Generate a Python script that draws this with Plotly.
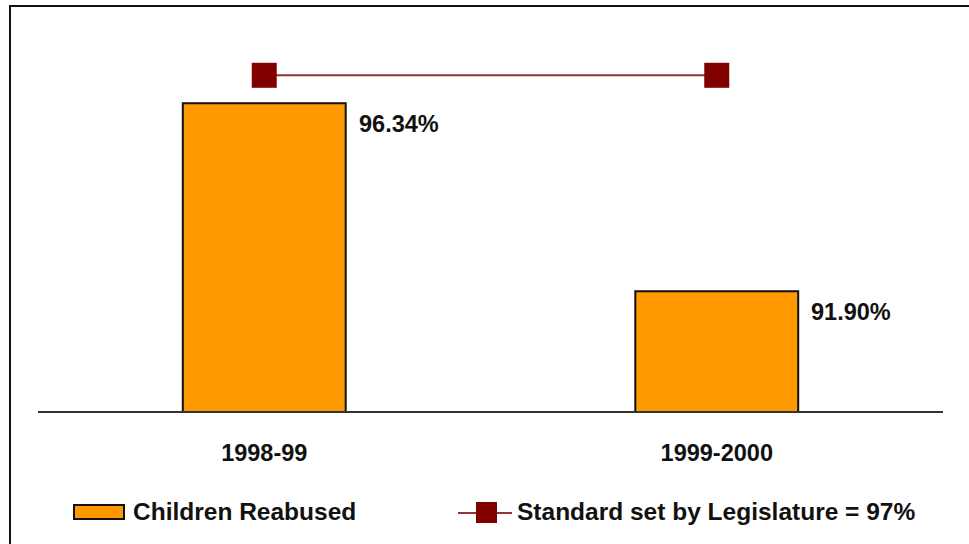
import plotly.graph_objects as go

# Data
periods = ["1998-99", "1999-2000"]
reabused_pct = [96.34, 91.90]
standard_pct = [97, 97]
bar_name = "Children Reabused"
line_name = "Standard set by Legislature = 97%"

W, H = 969, 544
L, R, T, B = 38, 26, 30, 133
PW, PH = W - L - R, H - T - B
Y_MIN, Y_MAX = 89.07, 98.07
FONT = "Liberation Sans, Arial, sans-serif"


def px_x(p):
    return (p - L) / PW


def px_y(p):
    return (H - B - p) / PH


fig = go.Figure()

fig.add_trace(go.Bar(
    x=periods, y=reabused_pct, name=bar_name, width=0.36,
    marker=dict(color="#FF9900", line=dict(color="#111111", width=2)),
    showlegend=False,
))

fig.add_trace(go.Scatter(
    x=periods, y=standard_pct, name=line_name, mode="lines+markers",
    line=dict(color="#993333", width=2),
    marker=dict(symbol="square", size=25, color="#800000"),
    showlegend=False,
))

# Value labels to the right of each bar
for i, v in enumerate(reabused_pct):
    fig.add_annotation(
        x=i + 0.18, y=v, xref="x", yref="y", text=f"{v:.2f}%",
        showarrow=False, xanchor="left", yanchor="middle",
        xshift=11, yshift=-21,
        font=dict(family=FONT, size=23.5, color="#111111", weight="bold"),
    )

shapes = []
# Outer frame
shapes.append(dict(type="rect", xref="paper", yref="paper",
                   x0=px_x(10), y0=-2, x1=2, y1=px_y(6),
                   line=dict(color="#111111", width=2), layer="below"))

# Legend: bar swatch
shapes.append(dict(type="rect", xref="paper", yref="paper",
                   x0=px_x(74), x1=px_x(124), y0=px_y(519), y1=px_y(505),
                   fillcolor="#FF9900", line=dict(color="#111111", width=2)))
fig.add_annotation(x=px_x(131), y=px_y(511), xref="paper", yref="paper",
                   text=bar_name, showarrow=False, xanchor="left", yanchor="middle",
                   font=dict(family=FONT, size=24.5, color="#111111", weight="bold"))

# Legend: line swatch
shapes.append(dict(type="line", xref="paper", yref="paper",
                   x0=px_x(458), x1=px_x(512), y0=px_y(513), y1=px_y(513),
                   line=dict(color="#993333", width=2)))
shapes.append(dict(type="rect", xref="paper", yref="paper",
                   x0=px_x(476), x1=px_x(497), y0=px_y(523), y1=px_y(502),
                   fillcolor="#800000", line=dict(width=0)))
fig.add_annotation(x=px_x(515), y=px_y(511), xref="paper", yref="paper",
                   text=line_name, showarrow=False, xanchor="left", yanchor="middle",
                   font=dict(family=FONT, size=24.5, color="#111111", weight="bold"))

fig.update_layout(
    width=W, height=H,
    margin=dict(l=L, r=R, t=T, b=B),
    paper_bgcolor="white", plot_bgcolor="white",
    shapes=shapes,
    showlegend=False,
    bargap=0.64,
    xaxis=dict(
        type="category", showline=True, linecolor="#333333", linewidth=2,
        showgrid=False, zeroline=False, ticks="",
        ticklabelstandoff=20,
        tickfont=dict(family=FONT, size=23.5, color="#111111", weight="bold"),
        fixedrange=True,
    ),
    yaxis=dict(range=[Y_MIN, Y_MAX], visible=False, showgrid=False,
               zeroline=False, fixedrange=True),
)

fig.write_html("out.html")
